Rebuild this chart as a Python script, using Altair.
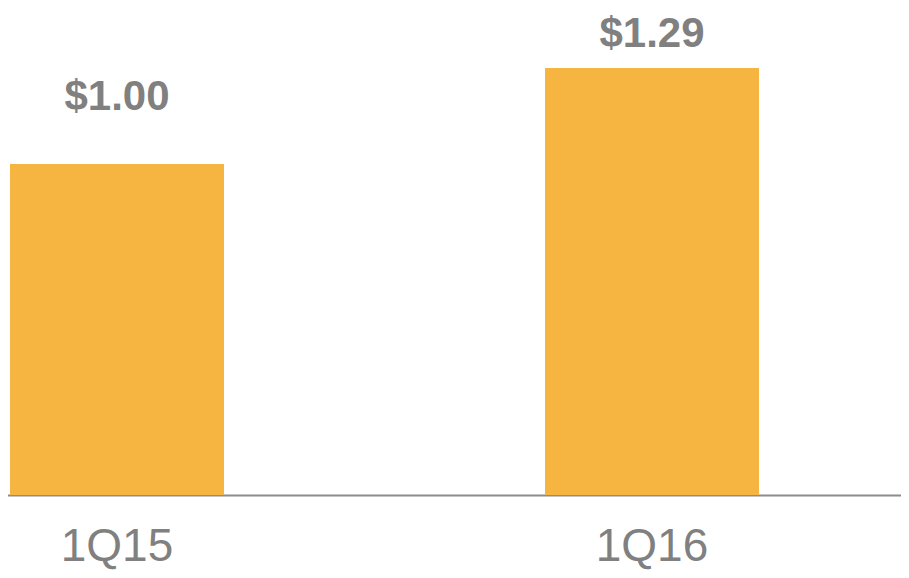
import altair as alt
import pandas as pd

quarters = ["1Q15", "1Q16"]
values = [1.00, 1.29]
labels = ["$1.00", "$1.29"]

df = pd.DataFrame({"quarter": quarters, "value": values, "label": labels})

BAR = "#F6B440"
GRAY = "#808080"

x_enc = alt.X(
    "quarter:N",
    sort=quarters,
    title=None,
    scale=alt.Scale(range=[-158.5, 911.5], paddingInner=0.6, paddingOuter=0.3),
    axis=alt.Axis(
        labelAngle=0,
        labelFont="Liberation Sans",
        labelFontSize=46,
        labelColor=GRAY,
        labelBaseline="alphabetic",
        labelPadding=65,
        ticks=False,
        tickSize=0,
        domainColor="#8c8c8c",
        domainWidth=2,
        grid=False,
    ),
)
y_enc = alt.Y("value:Q", scale=alt.Scale(domain=[0, 1.4804], nice=False, zero=True), axis=None)

base = alt.Chart(df)
bars = base.mark_bar(color=BAR).encode(x=x_enc, y=y_enc)


def value_text(q, dy):
    return (
        base.transform_filter(alt.datum.quarter == q)
        .mark_text(
            font="Liberation Sans",
            fontWeight="bold",
            fontSize=42,
            color=GRAY,
            baseline="alphabetic",
            align="center",
            dy=dy,
        )
        .encode(x=alt.X("quarter:N", sort=quarters), y=alt.Y("value:Q"), text="label:N")
    )


chart = (
    alt.layer(bars, value_text("1Q15", -54), value_text("1Q16", -21))
    .properties(
        width=893,
        height=490,
        autosize=alt.AutoSizeParams(type="none"),
        padding={"left": 0, "top": -3, "right": 0, "bottom": 75},
    )
    .configure_view(stroke=None)
)

chart.save("out.html", embed_options={"renderer": "svg", "actions": False})
